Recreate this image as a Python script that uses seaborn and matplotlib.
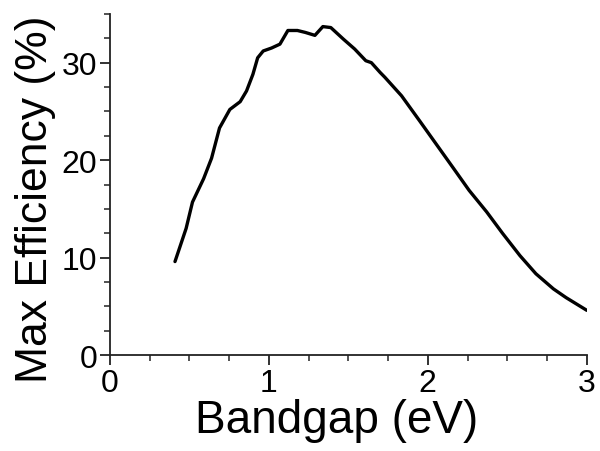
import matplotlib

matplotlib.use('Agg')
import matplotlib.pyplot as plt
import pandas as pd
import seaborn as sns
from matplotlib.ticker import MultipleLocator

# (bandgap in eV, max efficiency in %).
bandgap = [
    0.41, 0.48, 0.52, 0.59, 0.64, 0.69, 0.755, 0.82, 0.86, 0.90, 0.93,
    0.965, 1.017, 1.07, 1.12, 1.18, 1.23, 1.29, 1.34, 1.39, 1.47, 1.54,
    1.61, 1.645, 1.70, 1.73, 1.835, 1.95, 2.055, 2.16, 2.26, 2.37, 2.47,
    2.58, 2.68, 2.79, 2.87, 3.0,
]
efficiency = [
    9.6, 13.0, 15.7, 18.1, 20.2, 23.3, 25.2, 26.0, 27.1, 28.8, 30.5,
    31.2, 31.5, 31.9, 33.3, 33.3, 33.1, 32.8, 33.7, 33.6, 32.4, 31.4,
    30.2, 30.0, 29.0, 28.5, 26.6, 24.0, 21.6, 19.2, 16.9, 14.7, 12.5,
    10.2, 8.35, 6.8, 5.9, 4.6,
]

sns.set_theme(style='ticks')
plt.rcParams['font.family'] = ['Liberation Sans', 'DejaVu Sans']

df = pd.DataFrame({'bandgap': bandgap, 'efficiency': efficiency})

fig = plt.figure(figsize=(6.0, 4.52), dpi=100)
ax = fig.add_axes([0.183, 0.212, 0.795, 0.755])
sns.lineplot(data=df, x='bandgap', y='efficiency', ax=ax, color='black', linewidth=2.4)

ax.set_xlim(0, 3)
ax.set_ylim(0, 35)
ax.xaxis.set_major_locator(MultipleLocator(1))
ax.xaxis.set_minor_locator(MultipleLocator(0.25))
ax.yaxis.set_major_locator(MultipleLocator(10))
ax.yaxis.set_minor_locator(MultipleLocator(2.5))
ax.tick_params(which='major', length=7, width=1.3, labelsize=23, color='#222222', labelcolor='black', pad=2)
ax.tick_params(which='minor', length=4, width=1.1, color='#222222')
for side in ('top', 'right'):
    ax.spines[side].set_visible(False)
for side in ('left', 'bottom'):
    ax.spines[side].set_linewidth(1.3)
    ax.spines[side].set_color('#222222')

ax.set_xlabel('Bandgap (eV)', fontsize=33, color='black', labelpad=0)
ax.set_ylabel('Max Efficiency (%)', fontsize=32, color='black', labelpad=4)
ax.xaxis.label.set_x(0.476)
ax.yaxis.label.set_y(0.46)

fig.savefig('out.png', dpi=100)
